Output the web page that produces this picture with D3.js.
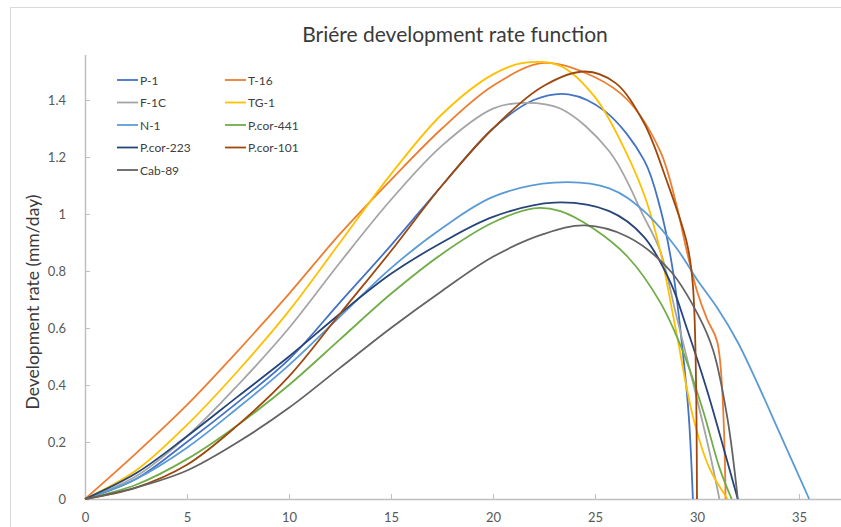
<!DOCTYPE html>
<html>
<head>
<meta charset="utf-8">
<script src="https://cdn.jsdelivr.net/npm/d3@7"></script>
<style>
  html, body { margin: 0; padding: 0; background: #ffffff; }
  svg { display: block; font-family: Lato, "Open Sans", sans-serif; }
</style>
</head>
<body>
<svg id="chart" width="841" height="527"></svg>
<script>
// ---------- data (temperature °C, development rate mm/day) ----------
const seriesNames = ["P-1", "T-16", "F-1C", "TG-1", "N-1", "P.cor-441", "P.cor-223", "P.cor-101", "Cab-89"];
const seriesColors = ["#4472C4", "#ED7D31", "#A5A5A5", "#FFC000", "#5B9BD5", "#70AD47", "#264478", "#9E480E", "#636363"];

const P1 = [[0,0],[2.5,0.07],[5,0.2],[7.5,0.34],[10,0.49],[12.5,0.69],[15,0.89],[17.5,1.1],[20,1.3],[22,1.4],[23.7,1.42],[25.5,1.36],[27.4,1.19],[28.2,1.02],[28.8,0.81],[29.3,0.52],[29.6,0.29],[29.8,0]];
const T16 = [[0,0],[2.5,0.16],[5,0.33],[7.5,0.52],[10,0.72],[12.5,0.93],[15,1.12],[17.5,1.3],[20,1.45],[22.5,1.53],[25,1.48],[26.6,1.4],[28.2,1.22],[29,1.03],[29.5,0.87],[30,0.73],[30.5,0.63],[31,0.55],[31.4,0]];
const F1C = [[0,0],[2.5,0.08],[5,0.22],[7.5,0.4],[10,0.6],[12.5,0.83],[15,1.05],[17.5,1.24],[20,1.37],[21.5,1.39],[23.3,1.37],[25.7,1.22],[27.4,0.99],[28.2,0.87],[29,0.64],[29.8,0.41],[30.6,0.17],[31.1,0]];
const TG1 = [[0,0],[2.5,0.1],[5,0.26],[7.5,0.45],[10,0.66],[12.5,0.9],[15,1.14],[17.5,1.35],[20,1.49],[21.5,1.53],[23.3,1.52],[25,1.41],[26.5,1.22],[27.5,1.05],[28.2,0.87],[29,0.58],[29.8,0.29],[30.6,0.11],[31.5,0]];
const N1 = [[0,0],[2.5,0.07],[5,0.18],[7.5,0.32],[10,0.47],[12.5,0.64],[15,0.81],[17.5,0.95],[20,1.06],[23,1.11],[25.7,1.09],[27.4,1.01],[29,0.88],[30,0.77],[31,0.67],[32,0.55],[33,0.4],[34,0.24],[35,0.08],[35.5,0]];
const PCOR441 = [[0,0],[2.5,0.05],[5,0.14],[7.5,0.26],[10,0.4],[12.5,0.56],[15,0.72],[17.5,0.86],[20,0.97],[22,1.02],[23.3,1.01],[24.9,0.95],[26.6,0.85],[28.2,0.69],[29.3,0.52],[30.3,0.31],[31.1,0.11],[31.7,0]];
const PCOR223 = [[0,0],[2.5,0.09],[5,0.22],[7.5,0.36],[10,0.5],[12.5,0.65],[15,0.79],[17.5,0.9],[20,0.99],[23,1.04],[25.7,1.01],[27.4,0.92],[28.7,0.76],[29.5,0.6],[30.5,0.38],[31.3,0.18],[32,0]];
const PCOR101 = [[0,0],[2.5,0.04],[5,0.12],[7.5,0.26],[10,0.43],[12.5,0.65],[15,0.87],[17.5,1.1],[20,1.3],[22.5,1.45],[24.5,1.5],[26,1.46],[27.4,1.32],[28.5,1.12],[29.5,0.9],[29.8,0.75],[30,0]];
const CAB89 = [[0,0],[2.5,0.04],[5,0.1],[7.5,0.2],[10,0.32],[12.5,0.46],[15,0.6],[17.5,0.73],[20,0.85],[22.5,0.93],[24.5,0.96],[26.6,0.92],[28.7,0.8],[30.1,0.64],[30.8,0.52],[31.5,0.28],[32,0]];

const seriesValues = [P1, T16, F1C, TG1, N1, PCOR441, PCOR223, PCOR101, CAB89];

const xTicks = [0, 5, 10, 15, 20, 25, 30, 35];
const yTicks = [0, 0.2, 0.4, 0.6, 0.8, 1, 1.2, 1.4];
const yTickLabels = ["0", "0.2", "0.4", "0.6", "0.8", "1", "1.2", "1.4"];

const titleText = "Briére development rate function";
const yTitleText = "Development rate (mm/day)";

// ---------- layout ----------
const svg = d3.select("#chart");
const W = 841, H = 527;

svg.append("rect").attr("x", 10.5).attr("y", 7.5).attr("width", W + 20).attr("height", H + 20)
  .attr("fill", "#fff").attr("stroke", "#d9d9d9").attr("stroke-width", 1);

const x = d3.scaleLinear().domain([0, 37.6]).range([85, 852]);
const y = d3.scaleLinear().domain([0, 1.56]).range([499, 54.4]);

svg.append("text").attr("x", 455).attr("y", 42).attr("text-anchor", "middle")
  .attr("font-size", 21).attr("fill", "#3a3a3a").text(titleText);

svg.append("text").attr("transform", "translate(39,302) rotate(-90)").attr("text-anchor", "middle")
  .attr("font-size", 17.5).attr("fill", "#3a3a3a").text(yTitleText);

const xAxis = d3.axisBottom(x).tickValues(xTicks).tickSizeInner(-5).tickSizeOuter(0).tickPadding(14);
const gx = svg.append("g").attr("transform", `translate(0,${y(0)})`).call(xAxis);
gx.select(".domain").attr("stroke", "#bfbfbf").attr("stroke-width", 1.5);
gx.selectAll(".tick line").attr("stroke", "#bfbfbf");
gx.selectAll(".tick text").attr("font-size", 13).attr("fill", "#595959").attr("font-family", "Lato, 'Open Sans', sans-serif");

const yAxis = d3.axisLeft(y).tickValues(yTicks).tickFormat((d, i) => yTickLabels[i]).tickSizeInner(-5).tickSizeOuter(0).tickPadding(19);
const gy = svg.append("g").attr("transform", `translate(${x(0)},0)`).call(yAxis);
gy.select(".domain").attr("stroke", "#bfbfbf").attr("stroke-width", 1.5);
gy.selectAll(".tick line").attr("stroke", "#bfbfbf");
gy.selectAll(".tick text").attr("font-size", 13).attr("fill", "#595959").attr("font-family", "Lato, 'Open Sans', sans-serif");

const line = d3.line().x(d => x(d[0])).y(d => y(d[1])).curve(d3.curveCatmullRom.alpha(0.5));
svg.append("g").selectAll("path").data(seriesValues).join("path")
  .attr("d", d => line(d))
  .attr("fill", "none")
  .attr("stroke", (d, i) => seriesColors[i])
  .attr("stroke-width", 1.8)
  .attr("stroke-linejoin", "round");

const legend = svg.append("g");
const colX = [117, 225];
const rowY0 = 80, rowH = 22.5;
seriesNames.forEach((name, i) => {
  const cx = colX[i % 2], cy = rowY0 + Math.floor(i / 2) * rowH;
  const g = legend.append("g").attr("transform", `translate(${cx},${cy})`);
  g.append("line").attr("x1", 0).attr("x2", 21).attr("y1", 0).attr("y2", 0)
    .attr("stroke", seriesColors[i]).attr("stroke-width", 1.8);
  g.append("text").attr("x", 23).attr("y", 4.5).attr("font-size", 12).attr("fill", "#404040").text(name);
});
</script>
</body>
</html>
